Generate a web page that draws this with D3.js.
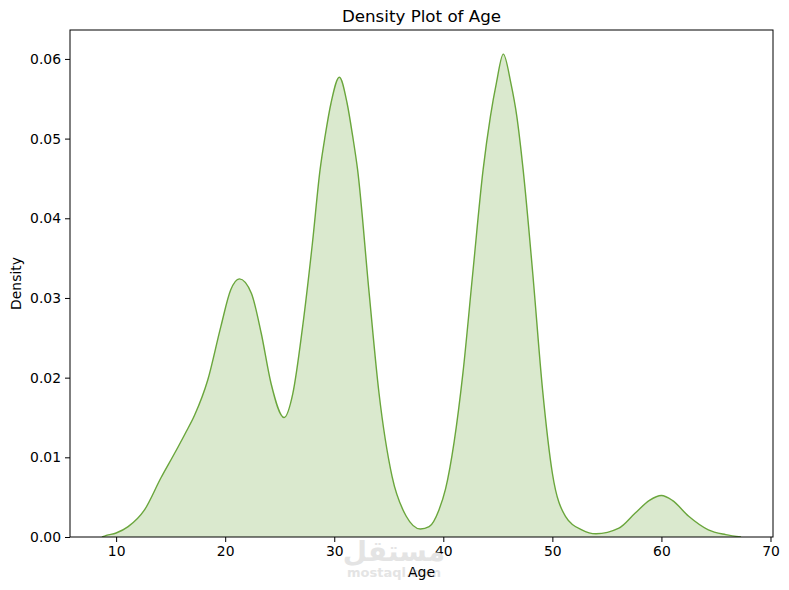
<!DOCTYPE html>
<html>
<head>
<meta charset="utf-8">
<script src="https://cdn.jsdelivr.net/npm/d3@7"></script>
<style>
  body { margin: 0; background: #fff; }
  svg { display: block; font-family: "DejaVu Sans", sans-serif; }
</style>
</head>
<body>
<svg id="chart" width="789" height="590"></svg>
<script>
// Data (KDE of Age)
const ages = [8.7, 9.1, 10.0, 11.1, 12.6, 14.1, 15.4, 16.3, 17.2, 18.4, 19.6, 20.5, 21.3, 22.4, 23.3, 24.2, 25.4,
  26.2, 27.1, 28.0, 28.7, 29.16, 29.71, 30.47, 31.17, 31.69, 32.14, 33.2, 34.1, 35.3, 36.6, 37.9, 38.7, 39.6, 40.2,
  41.0, 41.8, 42.7, 43.65, 44.32, 44.87, 45.5, 46.19, 46.74, 47.32, 48.2, 49.1, 50.0, 51.2, 52.7, 54.0, 56.1, 57.6, 58.9,
  60.0, 61.0, 62.5, 64.3, 65.9, 67.3];
const density = [0.0000, 0.0002, 0.0005, 0.0013, 0.0034, 0.0074, 0.0106, 0.0129, 0.0153, 0.0197, 0.0264, 0.0310, 0.0324, 0.0306, 0.0256, 0.0193, 0.0150,
  0.0180, 0.0264, 0.0369, 0.0461, 0.0503, 0.0545, 0.0577, 0.0545, 0.0503, 0.0461, 0.0306, 0.0181, 0.0076, 0.0026, 0.0010, 0.0013, 0.0034, 0.0060,
  0.0120, 0.0206, 0.0331, 0.0461, 0.0528, 0.0570, 0.0606, 0.0570, 0.0528, 0.0461, 0.0331, 0.0185, 0.0080, 0.0026, 0.0009, 0.0004, 0.0011, 0.0030, 0.0046,
  0.0052, 0.0046, 0.0026, 0.0009, 0.0003, 0.0000];
const xTicks = [10, 20, 30, 40, 50, 60, 70];
const yTicks = [0.00, 0.01, 0.02, 0.03, 0.04, 0.05, 0.06];
const titleText = "Density Plot of Age";
const xLabel = "Age";
const yLabel = "Density";

const data = ages.map((a, i) => ({ x: a, y: density[i] }));

const svg = d3.select("#chart");
const L = 70, R = 773, T = 30, B = 537;

const xMin = d3.min(ages), xMax = d3.max(ages);
const pad = (xMax - xMin) * 0.05;
const x = d3.scaleLinear().domain([xMin - pad, xMax + pad]).range([L, R]);
const y = d3.scaleLinear().domain([0, d3.max(density) * 1.05]).range([B, T]);

const lineColor = "rgb(106,166,60)";
const curve = d3.curveMonotoneX;

const area = d3.area()
  .x(d => x(d.x)).y0(y(0)).y1(d => y(d.y))
  .curve(curve);
const line = d3.line()
  .x(d => x(d.x)).y(d => y(d.y))
  .curve(curve);

svg.append("defs").append("clipPath").attr("id", "clip")
  .append("rect").attr("x", L).attr("y", T).attr("width", R - L).attr("height", B - T);

const plot = svg.append("g").attr("clip-path", "url(#clip)");
plot.append("path").datum(data)
  .attr("d", area)
  .attr("fill", lineColor).attr("fill-opacity", 0.25);
plot.append("path").datum(data)
  .attr("d", line)
  .attr("fill", "none").attr("stroke", lineColor).attr("stroke-width", 1.4);

// Axes
const xAxis = d3.axisBottom(x).tickValues(xTicks).tickSize(5).tickPadding(4).tickFormat(d3.format("d"));
const yAxis = d3.axisLeft(y).tickValues(yTicks).tickSize(5).tickPadding(4).tickFormat(d3.format(".2f"));

const gx = svg.append("g").attr("transform", `translate(0,${B})`).call(xAxis);
const gy = svg.append("g").attr("transform", `translate(${L},0)`).call(yAxis);
[gx, gy].forEach(g => {
  g.select(".domain").remove();
  g.selectAll("text").attr("font-family", "DejaVu Sans").attr("font-size", 13.9).attr("fill", "#000");
  g.selectAll("line").attr("stroke", "#000").attr("stroke-width", 1);
});

// frame
svg.append("rect").attr("x", L).attr("y", T).attr("width", R - L).attr("height", B - T)
  .attr("fill", "none").attr("stroke", "#000").attr("stroke-width", 1);

// Watermark
svg.append("text").attr("x", 394).attr("y", 561).attr("text-anchor", "middle")
  .attr("font-family", "DejaVu Sans").attr("font-weight", "bold").attr("font-size", 28)
  .attr("fill", "#e4e4e4").text("مستقل");
svg.append("text").attr("x", 394).attr("y", 577).attr("text-anchor", "middle")
  .attr("font-family", "DejaVu Sans").attr("font-weight", "bold").attr("font-size", 13)
  .attr("fill", "#e4e4e4").text("mostaql.com");

// Titles
svg.append("text").attr("x", (L + R) / 2).attr("y", 22).attr("text-anchor", "middle")
  .attr("font-size", 16.7).attr("fill", "#000").text(titleText);
svg.append("text").attr("x", (L + R) / 2).attr("y", 577).attr("text-anchor", "middle")
  .attr("font-size", 13.9).attr("fill", "#000").text(xLabel);
svg.append("text").attr("transform", `translate(21,${(T + B) / 2}) rotate(-90)`).attr("text-anchor", "middle")
  .attr("font-size", 13.9).attr("fill", "#000").text(yLabel);
</script>
</body>
</html>
